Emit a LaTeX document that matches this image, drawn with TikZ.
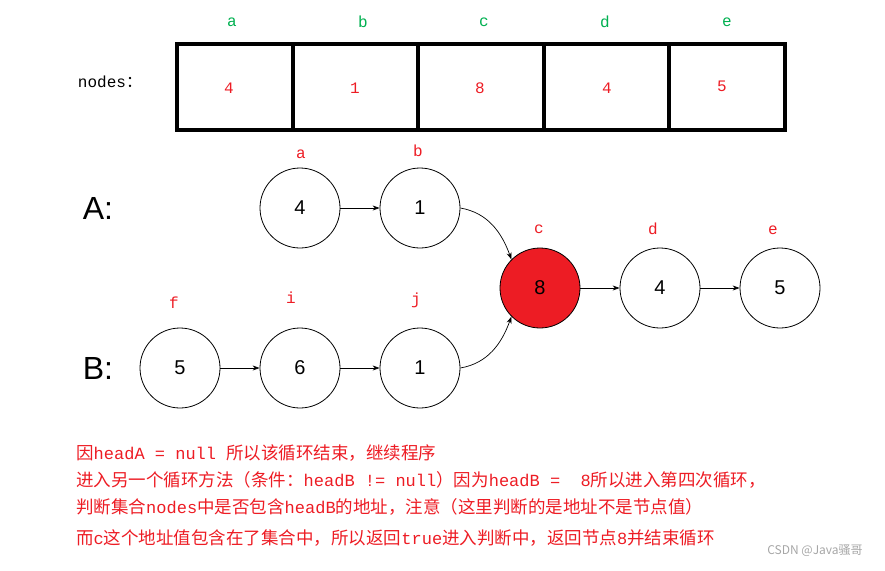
\documentclass[tikz,border=0pt]{standalone}
\usepackage{fontspec}
\setmainfont{Liberation Serif}
\newfontfamily\cjk{Noto Sans CJK SC}
\newfontfamily\lmono{Liberation Mono}
\newfontfamily\lsans{Liberation Sans}
\newcommand\mm[1]{{\lmono\fontsize{17}{18}\selectfont #1}}
\usetikzlibrary{arrows.meta}
\definecolor{myred}{RGB}{237,28,36}
\definecolor{mygreen}{RGB}{0,176,80}
\begin{document}
\begin{tikzpicture}[x=1pt,y=-1pt,
  circ/.style={circle,draw,line width=0.8pt,minimum size=80pt,inner sep=0pt,font=\lsans\fontsize{20}{24}\selectfont},
  lbl/.style={text=myred,font=\lmono\fontsize{16}{18}\selectfont},
  glbl/.style={text=mygreen,font=\lmono\fontsize{16}{18}\selectfont},
  cell/.style={text=myred,font=\lmono\fontsize{16}{18}\selectfont},
  arr/.style={-{Stealth[length=7pt,width=5pt]},line width=0.7pt},
  txt/.style={anchor=west,text=myred,font=\cjk\fontsize{17.5}{18}\selectfont,inner sep=0pt}]
\useasboundingbox (0,0) rectangle (885,570);
% array
\draw[line width=4pt] (177,44) rectangle (785,130);
\foreach \x in {293,418,544,669} \draw[line width=4pt] (\x,44) -- (\x,130);
\node[glbl] (la) at (232,22) {a};
\node[glbl] (lb) at (363,22) {b};
\node[glbl] (lc) at (484,22) {c};
\node[glbl] (ld) at (605,22) {d};
\node[glbl] (le) at (727,22) {e};
\node[cell] (va) at (229,88) {4};
\node[cell] (vb) at (355,88) {1};
\node[cell] (vc) at (480,88) {8};
\node[cell] (vd) at (607,88) {4};
\node[cell] (ve) at (722,86) {5};
\node[font=\lmono\fontsize{16}{18}\selectfont] (nl) at (110,82) {nodes{\cjk ：}};
% lists
\node[font=\lsans\fontsize{32}{36}\selectfont] (A) at (98,208) {A:};
\node[font=\lsans\fontsize{32}{36}\selectfont] (B) at (98,368) {B:};
\node[circ] (a) at (300,208) {4};
\node[circ] (b) at (420,208) {1};
\node[circ,fill=myred] (c) at (540,288) {8};
\node[circ] (d) at (660,288) {4};
\node[circ] (e) at (780,288) {5};
\node[circ] (f) at (180,368) {5};
\node[circ] (i) at (300,368) {6};
\node[circ] (j) at (420,368) {1};
\node[lbl] (ta) at (301,154) {a};
\node[lbl] (tb) at (418,151) {b};
\node[lbl] (tc) at (539,229) {c};
\node[lbl] (td) at (653,229) {d};
\node[lbl] (te) at (773,230) {e};
\node[lbl] (tf) at (174,303) {f};
\node[lbl] (ti) at (291,298) {i};
\node[lbl] (tj) at (416,300) {j};
\draw[arr] (a) -- (b);
\draw[arr] (b.east) to[out=-10,in=110] (c.north west);
\draw[arr] (j.east) to[out=10,in=-110] (c.south west);
\draw[arr] (c) -- (d);
\draw[arr] (d) -- (e);
\draw[arr] (f) -- (i);
\draw[arr] (i) -- (j);
% text
\node[txt] (t1) at (76,453) {因\mm{headA = null }所以该循环结束，继续程序};
\node[txt] (t2) at (76,480) {进入另一个循环方法（条件：\mm{headB != null}）因为\mm{headB =\ \ 8}所以进入第四次循环，};
\node[txt] (t3) at (76,507) {判断集合\mm{nodes}中是否包含\mm{headB}的地址，注意（这里判断的是地址不是节点值）};
\node[txt] (t4) at (76,538) {而\mm{c}这个地址值包含在了集合中，所以返回\mm{true}进入判断中，返回节点\mm{8}并结束循环};
\node[text=gray!70,font=\cjk\fontsize{12}{13}\selectfont] (wm) at (815,551) {CSDN @Java骚哥};
\end{tikzpicture}
\end{document}
